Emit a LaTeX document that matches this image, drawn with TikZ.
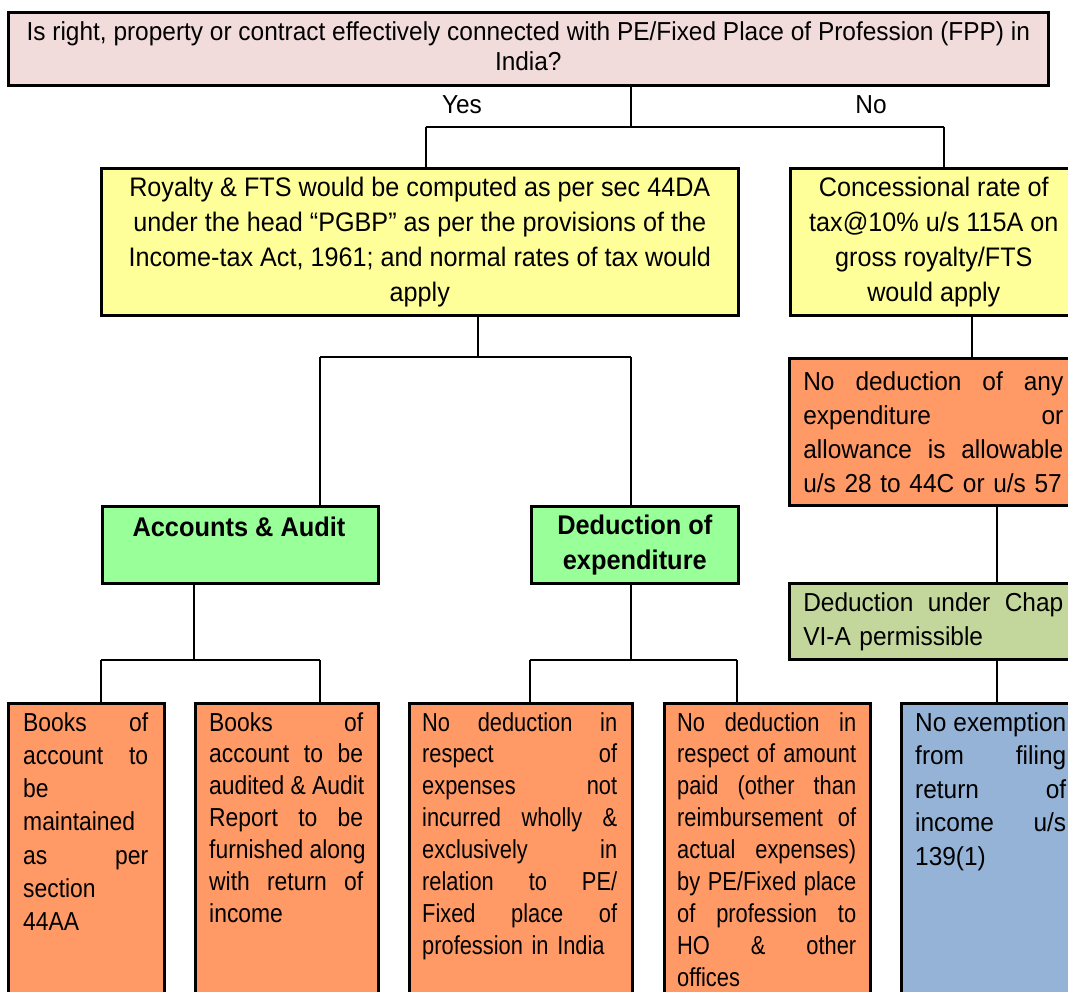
\documentclass[tikz,border=0pt]{standalone}
\usepackage{fontspec}
\setmainfont{Liberation Sans}[FakeStretch=0.94]
\newfontfamily\fmid{Liberation Sans}[FakeStretch=0.88]
\newfontfamily\fnarrow{Liberation Sans}[FakeStretch=0.84]
\definecolor{cPink}{HTML}{F2DCDB}
\definecolor{cYellow}{HTML}{FFFF99}
\definecolor{cOrange}{HTML}{FF9966}
\definecolor{cGreen}{HTML}{99FF99}
\definecolor{cOlive}{HTML}{C3D69B}
\definecolor{cBlue}{HTML}{95B3D7}
% one justified line: the word spaces stretch to fill the text width
\newcommand\jline[1]{\leavevmode\hbox to\hsize{\spaceskip=\fontdimen2\font plus 1fil\relax #1}}
\begin{document}
\begin{tikzpicture}[x=1pt,y=-1pt,
  box/.style={draw=black, line width=2.6pt, rectangle, inner sep=0pt, anchor=north west},
  link/.style={draw=black, line width=1.8pt},
  body/.style={inner sep=0pt, font=\fontsize{26}{32.5}\selectfont},
  bodytext/.style={inner sep=0pt, anchor=north west, align=left}]
\useasboundingbox (0,0) rectangle (1068,992);
\clip (0,0) rectangle (1068,992);

% question
\node[box, fill=cPink, minimum width=1040, minimum height=73] (top) at (7,11) {};
\node[inner sep=0pt, align=center, font=\fontsize{26}{30}\selectfont] (toptxt)
  at ([yshift=3pt]top.center)
  {Is right, property or contract effectively connected with PE/Fixed Place of Profession (FPP) in\\India?};
\node[body] (yes) at (462,105) {Yes};
\node[body] (no) at (871,105) {No};

% second level
\node[box, fill=cYellow, minimum width=637, minimum height=147, align=center,
      font=\fontsize{26.8}{35}\selectfont] (yl) at (100,167)
  {Royalty \& FTS would be computed as per sec 44DA\\
   under the head “PGBP” as per the provisions of the\\
   Income-tax Act, 1961; and normal rates of tax would\\
   apply};
\node[box, fill=cYellow, minimum width=287, minimum height=147, align=center,
      font=\fontsize{26.8}{35}\selectfont] (yr) at (789,167)
  {Concessional rate of\\tax@10\% u/s 115A on\\gross royalty/FTS\\would apply};

% no-branch chain
\node[box, fill=cOrange, minimum width=288, minimum height=147, text width=260, align=left,
      font=\fontsize{26}{34}\selectfont] (or) at (788,357)
  {\jline{No deduction of any}\\
   \jline{expenditure or}\\
   \jline{allowance is allowable}\\
   \mbox{u/s 28 to 44C or u/s 57}};
\node[box, fill=cOlive, minimum width=288, minimum height=76, text width=260, align=left,
      font=\fontsize{26}{34}\selectfont] (ol) at (788,582)
  {\jline{Deduction under Chap}\\VI-A permissible};

% yes-branch heads
\node[box, fill=cGreen, minimum width=276, minimum height=77] (ga) at (101,505) {};
\node[inner sep=0pt, font=\fontsize{27}{35}\selectfont\bfseries, anchor=base] (gatxt) at (239,536)
  {Accounts \& Audit};
\node[box, fill=cGreen, minimum width=207, minimum height=77, align=center,
      font=\fontsize{27}{35}\selectfont\bfseries] (gm) at (530,505)
  {Deduction of\\expenditure};

% bottom row
\node[box, fill=cOrange, minimum width=156, minimum height=320] (b1) at (7,702) {};
\node[box, fill=cOrange, minimum width=183, minimum height=320] (b2) at (194,702) {};
\node[box, fill=cOrange, minimum width=223, minimum height=320] (b3) at (408,702) {};
\node[box, fill=cOrange, minimum width=206, minimum height=320] (b4) at (663,702) {};
\node[box, fill=cBlue, minimum width=180, minimum height=320] (b5) at (900,702) {};

\node[bodytext, text width=125, font=\fmid\fontsize{26}{33.3}\selectfont] (t1)
  at ([xshift=16pt,yshift=-10pt]b1.north west)
  {\jline{Books of}\\ \jline{account to}\\ be\\ maintained\\ \jline{as per}\\ section\\ 44AA};
\node[bodytext, text width=154, font=\fmid\fontsize{26}{31.9}\selectfont] (t2)
  at ([xshift=15pt,yshift=-10pt]b2.north west)
  {\jline{Books of}\\ \jline{account to be}\\ \jline{audited \& Audit}\\ \jline{Report to be}\\
   \jline{furnished along}\\ \jline{with return of}\\ income};
\node[bodytext, text width=195, font=\fnarrow\fontsize{26}{31.9}\selectfont] (t3)
  at ([xshift=14pt,yshift=-10pt]b3.north west)
  {\jline{No deduction in}\\ \jline{respect of}\\ \jline{expenses not}\\ \jline{incurred wholly \&}\\
   \jline{exclusively in}\\ \jline{relation to PE/}\\ \jline{Fixed place of}\\ profession in India};
\node[bodytext, text width=179, font=\fnarrow\fontsize{26}{31.9}\selectfont] (t4)
  at ([xshift=14pt,yshift=-10pt]b4.north west)
  {\jline{No deduction in}\\ \jline{respect of amount}\\ \jline{paid (other than}\\ \jline{reimbursement of}\\
   \jline{actual expenses)}\\ \jline{by PE/Fixed place}\\ \jline{of profession to}\\ \jline{HO \& other}\\ offices};
\node[bodytext, text width=151, font=\fontsize{26}{33.5}\selectfont] (t5)
  at ([xshift=15pt,yshift=-10pt]b5.north west)
  {\jline{No exemption}\\ \jline{from filing}\\ \jline{return of}\\ \jline{income u/s}\\ 139(1)};

% connectors: question to answers
\coordinate (j0) at (631,127);
\coordinate (jy) at (426,127);
\coordinate (jn) at (944,127);
\draw[link] (top.south -| j0) -- (j0);
\draw[link] (jy) -- (jn);
\draw[link] (jy) -- (jy |- yl.north);
\draw[link] (jn) -- (jn |- yr.north);

% yes branch to its two heads
\coordinate (j1) at (478,357);
\coordinate (j1a) at (320,357);
\coordinate (j1b) at (631,357);
\draw[link] (yl.south -| j1) -- (j1);
\draw[link] (j1a) -- (j1b);
\draw[link] (j1a) -- (j1a |- ga.north);
\draw[link] (j1b) -- (j1b |- gm.north);

% no branch chain
\coordinate (xr1) at (972,340);
\coordinate (xr2) at (997,600);
\draw[link] (yr.south -| xr1) -- (or.north -| xr1);
\draw[link] (or.south -| xr2) -- (ol.north -| xr2);
\draw[link] (ol.south -| xr2) -- (b5.north -| xr2);

% accounts & audit to its items
\coordinate (j3) at (194,660);
\coordinate (j3a) at (101,660);
\coordinate (j3b) at (320,660);
\draw[link] (ga.south -| j3) -- (j3);
\draw[link] (j3a) -- (j3b);
\draw[link] (j3a) -- (j3a |- b1.north);
\draw[link] (j3b) -- (j3b |- b2.north);

% deduction of expenditure to its items
\coordinate (j4) at (631,660);
\coordinate (j4a) at (530,660);
\coordinate (j4b) at (737,660);
\draw[link] (gm.south -| j4) -- (j4);
\draw[link] (j4a) -- (j4b);
\draw[link] (j4a) -- (j4a |- b3.north);
\draw[link] (j4b) -- (j4b |- b4.north);
\end{tikzpicture}
\end{document}
